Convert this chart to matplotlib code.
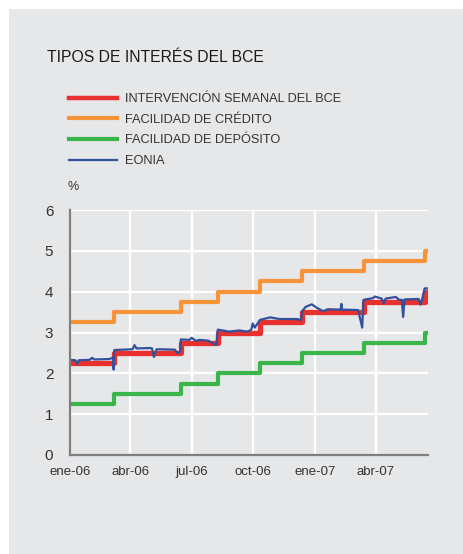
"""
ECB interest rates 2006-2007: MRO, marginal lending, deposit facility and EONIA.
"""

import matplotlib
matplotlib.use("Agg")

import matplotlib.pyplot as plt
import pandas as pd
from matplotlib.patches import Rectangle


# Official rate changes (date the new rate applies)
rate_dates = ["2006-01-01", "2006-03-08", "2006-06-15", "2006-08-09",
              "2006-10-11", "2006-12-13", "2007-03-14", "2007-06-13",
              "2007-06-18"]
mro = [2.25, 2.50, 2.75, 3.00, 3.25, 3.50, 3.75, 4.00, 4.00]
lending = [3.25, 3.50, 3.75, 4.00, 4.25, 4.50, 4.75, 5.00, 5.00]
deposit = [1.25, 1.50, 1.75, 2.00, 2.25, 2.50, 2.75, 3.00, 3.00]

# EONIA
eonia_dates = [
    "2006-01-02", "2006-01-09", "2006-01-12", "2006-01-14", "2006-01-30",
    "2006-02-03", "2006-02-06", "2006-02-28", "2006-03-06", "2006-03-07",
    "2006-03-08", "2006-04-04", "2006-04-07", "2006-04-10", "2006-04-30",
    "2006-05-03", "2006-05-06", "2006-05-10", "2006-06-06", "2006-06-10",
    "2006-06-14", "2006-06-15", "2006-06-28", "2006-07-01", "2006-07-08",
    "2006-07-12", "2006-07-26", "2006-08-03", "2006-08-07", "2006-08-09",
    "2006-08-20", "2006-08-25", "2006-09-10", "2006-09-22", "2006-09-28",
    "2006-09-30", "2006-10-03", "2006-10-11", "2006-10-26", "2006-11-09",
    "2006-12-05", "2006-12-11", "2006-12-13", "2006-12-18", "2006-12-27",
    "2007-01-03", "2007-01-13", "2007-01-20", "2007-02-08", "2007-02-09",
    "2007-02-10", "2007-03-06", "2007-03-12", "2007-03-14", "2007-03-28",
    "2007-03-31", "2007-04-10", "2007-04-13", "2007-04-16", "2007-05-01",
    "2007-05-06", "2007-05-10", "2007-05-12", "2007-05-14", "2007-06-04",
    "2007-06-07", "2007-06-09", "2007-06-13", "2007-06-18",
]
eonia = [
    2.33, 2.32, 2.23, 2.32, 2.33,
    2.38, 2.34, 2.35, 2.38, 2.09,
    2.57, 2.59, 2.69, 2.61, 2.62,
    2.61, 2.40, 2.59, 2.58, 2.50,
    2.52, 2.83, 2.82, 2.87, 2.79,
    2.82, 2.80, 2.72, 2.70, 3.07,
    3.04, 3.02, 3.05, 3.02, 3.07,
    3.22, 3.12, 3.31, 3.37, 3.33,
    3.33, 3.30, 3.53, 3.63, 3.69,
    3.61, 3.52, 3.57, 3.56, 3.70,
    3.56, 3.55, 3.12, 3.80, 3.84,
    3.88, 3.83, 3.72, 3.83, 3.87,
    3.80, 3.80, 3.38, 3.81, 3.82,
    3.68, 3.80, 4.08, 4.08,
]

tick_dates = ["2006-01-01", "2006-04-01", "2006-07-01", "2006-10-01",
              "2007-01-01", "2007-04-01"]
tick_labels = ["ene-06", "abr-06", "jul-06", "oct-06", "ene-07", "abr-07"]

labels = ["INTERVENCIÓN SEMANAL DEL BCE", "FACILIDAD DE CRÉDITO",
          "FACILIDAD DE DEPÓSITO", "EONIA"]

BG = "#e6e7e9"
TXT = "#333333"

plt.rcParams["font.family"] = ["Liberation Sans", "DejaVu Sans"]

W, H = 464, 554
fig = plt.figure(figsize=(W / 100, H / 100), dpi=100, facecolor="white")
fig.add_artist(Rectangle((9 / W, 0), 1, 1 - 9 / H, transform=fig.transFigure,
                         facecolor=BG, edgecolor="none", zorder=-10))

ax = fig.add_axes([70 / W, 1 - 455 / H, 358 / W, 245 / H])
ax.set_facecolor("none")

rd = pd.to_datetime(rate_dates)
ed = pd.to_datetime(eonia_dates)

l1, = ax.step(rd, mro, where="post", color="#e8312f", lw=3.8, zorder=3)
l2, = ax.step(rd, lending, where="post", color="#f7943a", lw=3.0, zorder=3)
l3, = ax.step(rd, deposit, where="post", color="#3ab54a", lw=3.0, zorder=3)
l4, = ax.plot(ed, eonia, color="#33509c", lw=1.6, zorder=4)

ax.set_xlim(pd.Timestamp("2006-01-01"), pd.Timestamp("2007-06-18"))
ax.set_ylim(0, 6)
ax.set_yticks(range(0, 7))
ax.set_xticks(pd.to_datetime(tick_dates))
ax.set_xticklabels(tick_labels)
ax.tick_params(length=0, colors=TXT)
ax.tick_params(axis="y", labelsize=11, pad=12)
ax.tick_params(axis="x", labelsize=9.5, pad=8)

ax.grid(True, color="white", lw=1.6, zorder=0)
ax.set_axisbelow(True)
for s in ["top", "right"]:
    ax.spines[s].set_visible(False)
for s in ["left", "bottom"]:
    ax.spines[s].set_color("#7f7f7f")
    ax.spines[s].set_linewidth(1.6)
    ax.spines[s].set_zorder(5)

fig.text(47 / W, 1 - 58 / H, "TIPOS DE INTERÉS DEL BCE", fontsize=11.3,
         color="#1a1a1a", va="center", ha="left")
fig.text(68 / W, 1 - 187 / H, "%", fontsize=9, color=TXT,
         va="center", ha="left")

leg = fig.legend([l1, l2, l3, l4], labels, loc="upper left",
                 bbox_to_anchor=(69 / W, 1 - 93 / H), frameon=False,
                 fontsize=9.2, handlelength=3.75, handletextpad=0.62,
                 labelspacing=0.68, borderaxespad=0, borderpad=0)
for t in leg.get_texts():
    t.set_color(TXT)
leg.get_lines()[0].set_linewidth(3.2)

fig.savefig("out.png", dpi=100, facecolor="white")
